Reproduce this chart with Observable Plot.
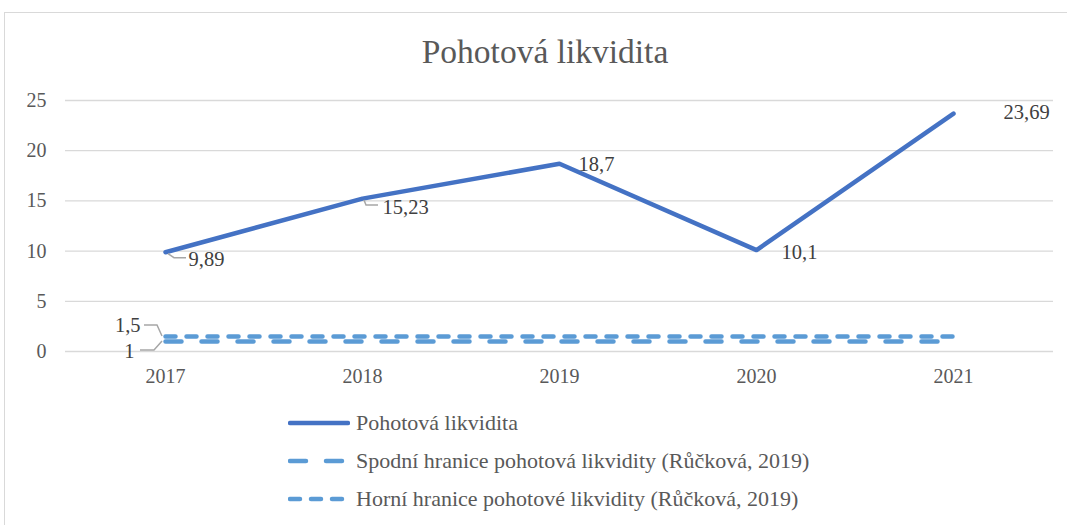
<!DOCTYPE html>
<html><head><meta charset="utf-8">
<script src="https://cdn.jsdelivr.net/npm/d3@7"></script>
<script src="https://cdn.jsdelivr.net/npm/@observablehq/plot@0.6"></script>
<style>
body{margin:0;background:#fff;font-family:"Liberation Serif","Times New Roman",serif;color:#595959;}
#frame{position:absolute;left:4px;top:12px;width:1070px;height:520px;border-left:1px solid #d9d9d9;border-top:1px solid #d9d9d9;}
#title{position:absolute;left:0;top:35px;width:1090px;text-align:center;font-size:33.5px;line-height:33px;}
#chart{position:absolute;left:0;top:80px;}
#legend{position:absolute;left:288px;top:404px;}
.row{height:38px;display:flex;align-items:center;font-size:22px;white-space:nowrap;}
.row svg{margin-right:6px;}
</style>
</head><body>
<div id="frame"></div>
<div id="title">Pohotová likvidita</div>
<div id="chart"></div>
<div id="legend"></div>
<script>
const years = ["2017","2018","2019","2020","2021"];
const quickRatio = [9.89, 15.23, 18.7, 10.1, 23.69];
const lowerBound = [1, 1, 1, 1, 1];
const upperBound = [1.5, 1.5, 1.5, 1.5, 1.5];
const yTicks = [0, 5, 10, 15, 20, 25];
const seriesNames = [
  "Pohotová likvidita",
  "Spodní hranice pohotová likvidity (Růčková, 2019)",
  "Horní hranice pohotové likvidity (Růčková, 2019)"
];

const fmt = v => String(v).replace(".", ",");
const mainData = years.map((y, i) => ({year: y, value: quickRatio[i]}));
const lowData = years.map((y, i) => ({year: y, value: lowerBound[i]}));
const upData = years.map((y, i) => ({year: y, value: upperBound[i]}));

const colMain = "#4472C4", colBound = "#5B9BD5", leaderCol = "#a6a6a6";
const dashLow = "16,20", dashUp = "10,11";

// label placements (pixel offsets from the point) — styling only
const labelSpecs = [
  {d: mainData[0], dx: 23, dy: 7, anchor: "start", leader: [[3,2],[9,6],[21,6]]},
  {d: mainData[1], dx: 20, dy: 9, anchor: "start", leader: [[2,2],[4,7],[16,7]]},
  {d: mainData[2], dx: 19, dy: 1, anchor: "start"},
  {d: mainData[3], dx: 25, dy: 2, anchor: "start"},
  {d: mainData[4], dx: 50, dy: -1, anchor: "start"},
  {d: upData[0], dx: -25, dy: -11, anchor: "end", leader: [[-3,0],[-8,-11],[-21,-11]]},
  {d: lowData[0], dx: -31, dy: 10, anchor: "end", leader: [[-3,0],[-11,9],[-25,9]]}
];

const leaderSpecs = labelSpecs.filter(s => s.leader);
const leaderMark = Plot.dot(leaderSpecs, {
  x: s => s.d.year, y: s => s.d.value, r: 0,
  render: (index, scales, values) => {
    const g = d3.create("svg:g").attr("fill", "none").attr("stroke", leaderCol).attr("stroke-width", 1.5);
    for (const i of index) {
      const px = values.x[i], py = values.y[i];
      const pts = leaderSpecs[i].leader.map(([a, b]) => [px + a, py + b]);
      g.append("path").attr("d", d3.line()(pts));
    }
    return g.node();
  }
});

const textMarks = labelSpecs.map(s => Plot.text([s.d], {
  x: "year", y: "value", text: d => fmt(d.value),
  dx: s.dx, dy: s.dy, textAnchor: s.anchor, fontSize: 20.5, fill: "#404040"
}));

const chart = Plot.plot({
  width: 1067, height: 320,
  marginTop: 20, marginBottom: 49, marginLeft: 65, marginRight: 14,
  style: {fontFamily: "'Liberation Serif', 'Times New Roman', serif", fontSize: "20px", color: "#595959", background: "transparent"},
  x: {type: "point", domain: years, padding: 0.5, label: null},
  y: {domain: [0, 25], ticks: yTicks, label: null},
  marks: [
    Plot.ruleY(yTicks, {stroke: "#d9d9d9", strokeWidth: 1.3}),
    Plot.axisX({tickSize: 0, tickPadding: 17, fontSize: 20, label: null}),
    Plot.axisY(yTicks, {tickSize: 0, tickPadding: 19, fontSize: 20, label: null}),
    Plot.line(lowData, {x: "year", y: "value", stroke: colBound, strokeWidth: 4.5, strokeDasharray: dashLow, strokeLinecap: "round"}),
    Plot.line(upData, {x: "year", y: "value", stroke: colBound, strokeWidth: 4.5, strokeDasharray: dashUp, strokeLinecap: "round"}),
    Plot.line(mainData, {x: "year", y: "value", stroke: colMain, strokeWidth: 4.5, strokeLinecap: "round", strokeLinejoin: "round"}),
    leaderMark,
    ...textMarks
  ]
});
document.getElementById("chart").appendChild(chart);

// legend
const legendStyles = [
  {stroke: colMain, dash: null},
  {stroke: colBound, dash: dashLow},
  {stroke: colBound, dash: dashUp}
];
const legend = d3.select("#legend");
seriesNames.forEach((name, i) => {
  const row = legend.append("div").attr("class", "row");
  const svg = row.append("svg").attr("width", 62).attr("height", 10);
  svg.append("line").attr("x1", 2).attr("x2", 60).attr("y1", 5).attr("y2", 5)
    .attr("stroke", legendStyles[i].stroke).attr("stroke-width", 4.5)
    .attr("stroke-linecap", "round")
    .attr("stroke-dasharray", legendStyles[i].dash);
  row.append("span").text(name);
});
</script>
</body></html>
